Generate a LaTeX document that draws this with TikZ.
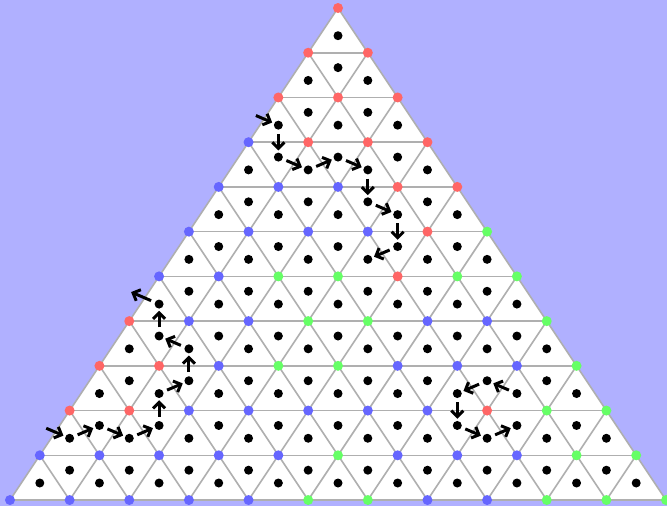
\documentclass[tikz,border=0pt]{standalone}
\usetikzlibrary{arrows.meta}
\definecolor{bgblue}{RGB}{176,176,255}
\definecolor{vred}{RGB}{255,102,102}
\definecolor{vblue}{RGB}{102,102,255}
\definecolor{vgreen}{RGB}{102,255,102}
\definecolor{gridgray}{RGB}{175,175,175}
\tikzset{
  vtx/.style={circle,inner sep=0pt,minimum size=10pt},
  vr/.style={vtx,fill=vred},
  vb/.style={vtx,fill=vblue},
  vg/.style={vtx,fill=vgreen},
  cdot/.style={circle,fill=black,inner sep=0pt,minimum size=9pt},
  gridline/.style={draw=gridgray,line width=1.6pt},
  doorarrow/.style={line width=3pt,-{Straight Barb[length=6pt,width=12pt]},shorten <=4pt,shorten >=2pt},
}
\begin{document}
\begin{tikzpicture}[x=1pt,y=-1pt]
\fill[bgblue] (0,0) rectangle (667,506);
\useasboundingbox (0,0) rectangle (667,506);
% lattice points
\foreach \k in {0,...,11}{
  \foreach \j in {0,...,\k}{
    \coordinate (p-\k-\j) at ({338+(2*\j-\k)*29.82},{8+\k*44.73});
  }
}
\fill[white] (p-0-0) -- (p-11-0) -- (p-11-11) -- cycle;
% grid
\foreach \k in {1,...,10} \draw[gridline] (p-\k-0) -- (p-\k-\k);
\foreach \j in {1,...,10} \draw[gridline] (p-\j-\j) -- (p-11-\j);
\foreach \m in {1,...,10} {\pgfmathtruncatemacro\e{11-\m}\draw[gridline] (p-\m-0) -- (p-11-\e);}
\draw[gridline,line join=round] (p-0-0) -- (p-11-0) -- (p-11-11) -- cycle;
% coloured vertices
\foreach \c [count=\j from 0] in {r} \node[v\c] (v-0-\j) at (p-0-\j) {};
\foreach \c [count=\j from 0] in {r,r} \node[v\c] (v-1-\j) at (p-1-\j) {};
\foreach \c [count=\j from 0] in {r,r,r} \node[v\c] (v-2-\j) at (p-2-\j) {};
\foreach \c [count=\j from 0] in {b,r,r,r} \node[v\c] (v-3-\j) at (p-3-\j) {};
\foreach \c [count=\j from 0] in {b,b,b,r,r} \node[v\c] (v-4-\j) at (p-4-\j) {};
\foreach \c [count=\j from 0] in {b,b,b,b,r,g} \node[v\c] (v-5-\j) at (p-5-\j) {};
\foreach \c [count=\j from 0] in {b,b,g,g,r,g,g} \node[v\c] (v-6-\j) at (p-6-\j) {};
\foreach \c [count=\j from 0] in {r,b,b,g,g,b,b,g} \node[v\c] (v-7-\j) at (p-7-\j) {};
\foreach \c [count=\j from 0] in {r,r,b,g,g,b,b,b,g} \node[v\c] (v-8-\j) at (p-8-\j) {};
\foreach \c [count=\j from 0] in {r,r,b,b,b,b,b,r,g,g} \node[v\c] (v-9-\j) at (p-9-\j) {};
\foreach \c [count=\j from 0] in {b,b,b,b,b,g,b,b,b,g,g} \node[v\c] (v-10-\j) at (p-10-\j) {};
\foreach \c [count=\j from 0] in {b,b,b,b,b,g,g,b,b,g,g,g} \node[v\c] (v-11-\j) at (p-11-\j) {};
% triangle dots
\foreach \k in {0,...,10}{
  \foreach \j in {0,...,\k}{
    \node[cdot] (u-\k-\j) at ({338+(2*\j-\k)*29.82},{8+\k*44.73+27.7}) {};
  }
}
\foreach \k in {1,...,10}{
  \pgfmathtruncatemacro\kk{\k-1}
  \foreach \j in {0,...,\kk}{
    \node[cdot] (d-\k-\j) at ({338+(2*\j-\k+1)*29.82},{8+\k*44.73+14.9}) {};
  }
}
% outside ends
\coordinate (o1) at ({338-3*29.82},{8+2*44.73+14.9});
\coordinate (o2) at ({338-10*29.82},{8+9*44.73+14.9});
\coordinate (o3) at ({338-7*29.82},{8+6*44.73+14.9});
% paths
\draw[doorarrow,shorten <=8pt] (o1) -- (u-2-0);
\foreach \a/\b in {u-2-0/d-3-0,d-3-0/u-3-1,u-3-1/d-3-1,d-3-1/u-3-2,u-3-2/d-4-2,d-4-2/u-4-3,u-4-3/d-5-3,d-5-3/u-5-3}
  \draw[doorarrow] (\a) -- (\b);
\draw[doorarrow,shorten <=7pt] (o2) -- (u-9-0);
\foreach \a/\b in {u-9-0/d-9-0,d-9-0/u-9-1,u-9-1/d-9-1,d-9-1/u-8-1,u-8-1/d-8-1,d-8-1/u-7-1,u-7-1/d-7-0,d-7-0/u-6-0}
  \draw[doorarrow] (\a) -- (\b);
\draw[doorarrow,shorten >=2pt] (u-6-0) -- (o3);
\foreach \a/\b in {u-8-7/d-8-6,d-8-6/u-8-6,u-8-6/d-9-6,d-9-6/u-9-7,u-9-7/d-9-7}
  \draw[doorarrow] (\a) -- (\b);
\end{tikzpicture}
\end{document}
